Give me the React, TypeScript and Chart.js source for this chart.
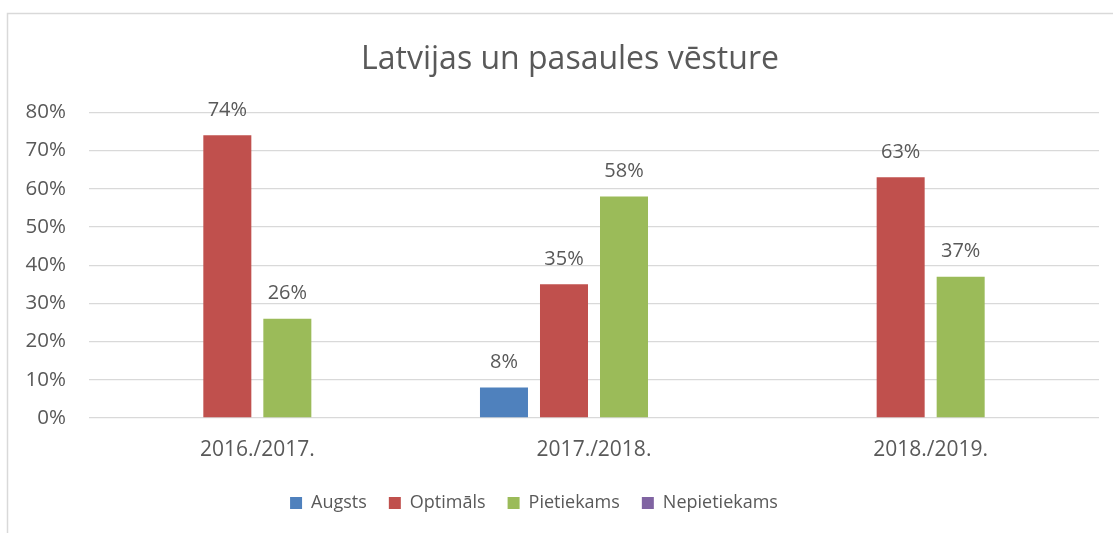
import React, { useEffect, useRef } from "react";
import { Chart, registerables } from "chart.js";

Chart.register(...registerables);

const titleText = "Latvijas un pasaules vēsture";
const categories = ["2016./2017.", "2017./2018.", "2018./2019."];
const seriesNames = ["Augsts", "Optimāls", "Pietiekams", "Nepietiekams"];
const augsts: (number | null)[] = [null, 8, null];
const optimals: (number | null)[] = [74, 35, 63];
const pietiekams: (number | null)[] = [26, 58, 37];
const nepietiekams: (number | null)[] = [null, null, null];
const seriesColors = ["#4F81BD", "#C0504D", "#9BBB59", "#8064A2"];
const yTicksMax = 80;
const yTicksStep = 10;

const TEXT = "#595959";
const FONT = "'Open Sans', 'Noto Sans', sans-serif";

const backgroundAndBorder = {
  id: "bgBorder",
  beforeDraw(chart: any) {
    const ctx = chart.ctx;
    ctx.save();
    ctx.fillStyle = "#ffffff";
    ctx.fillRect(0, 0, chart.width, chart.height);
    ctx.strokeStyle = "#d9d9d9";
    ctx.lineWidth = 1.5;
    ctx.beginPath();
    ctx.moveTo(7.5, chart.height + 5);
    ctx.lineTo(7.5, 13.5);
    ctx.lineTo(chart.width + 5, 13.5);
    ctx.stroke();
    ctx.restore();
  },
};

const blockShift = {
  id: "blockShift",
  afterLayout(chart: any) {
    if (chart.legend) {
      chart.legend.left -= 18;
      chart.legend.right -= 18;
    }
    if (chart.titleBlock) {
      chart.titleBlock.left += 18;
      chart.titleBlock.right += 18;
    }
  },
};

const dataLabels = {
  id: "dataLabels",
  afterDatasetsDraw(chart: any) {
    const ctx = chart.ctx;
    ctx.save();
    ctx.fillStyle = TEXT;
    ctx.font = `20px ${FONT}`;
    ctx.textAlign = "center";
    ctx.textBaseline = "middle";
    chart.data.datasets.forEach((ds: any, i: number) => {
      const meta = chart.getDatasetMeta(i);
      meta.data.forEach((el: any, j: number) => {
        const v = ds.data[j];
        if (v === null || v === undefined) return;
        ctx.fillText(`${v}%`, el.x, el.y - 25);
      });
    });
    ctx.restore();
  },
};

export default function App() {
  const ref = useRef<HTMLCanvasElement | null>(null);

  useEffect(() => {
    if (!ref.current) return;
    const seriesData = [augsts, optimals, pietiekams, nepietiekams];
    const chart = new Chart(ref.current, {
      type: "bar",
      data: {
        labels: categories,
        datasets: seriesNames.map((name, i) => ({
          label: name,
          data: seriesData[i],
          backgroundColor: seriesColors[i],
          borderWidth: 0,
          categoryPercentage: 0.713,
          barPercentage: 0.8,
        })),
      },
      options: {
        responsive: false,
        animation: false,
        events: [],
        layout: { padding: { left: 5, right: 14, top: 0, bottom: 11 } },
        plugins: {
          title: {
            display: true,
            text: titleText,
            color: TEXT,
            font: { family: FONT, size: 32, weight: "normal" },
            padding: { top: 41, bottom: 33 },
          },
          legend: {
            display: true,
            position: "bottom",
            labels: {
              color: TEXT,
              font: { family: FONT, size: 18 },
              boxWidth: 12,
              boxHeight: 12,
              padding: 22,
            },
          },
          tooltip: { enabled: false },
        },
        scales: {
          x: {
            grid: { display: false, drawTicks: false },
            border: { display: false },
            ticks: {
              color: TEXT,
              font: { family: FONT, size: 21 },
              padding: 19,
            },
            afterFit(scale: any) {
              scale.height = 54;
            },
          },
          y: {
            min: 0,
            max: yTicksMax,
            grid: { color: "#d9d9d9", lineWidth: 1.3, drawTicks: false },
            border: { display: false },
            ticks: {
              stepSize: yTicksStep,
              color: TEXT,
              font: { family: FONT, size: 20.5 },
              padding: 23,
              callback: (v: any) => `${v}%`,
            },
            afterFit(scale: any) {
              scale.width = 84;
            },
          },
        },
      },
      plugins: [backgroundAndBorder, blockShift, dataLabels],
    });
    return () => chart.destroy();
  }, []);

  return (
    <div style={{ position: "absolute", left: 0, top: 0, width: 1113, height: 533 }}>
      <canvas ref={ref} width={1113} height={533} style={{ display: "block" }} />
    </div>
  );
}
